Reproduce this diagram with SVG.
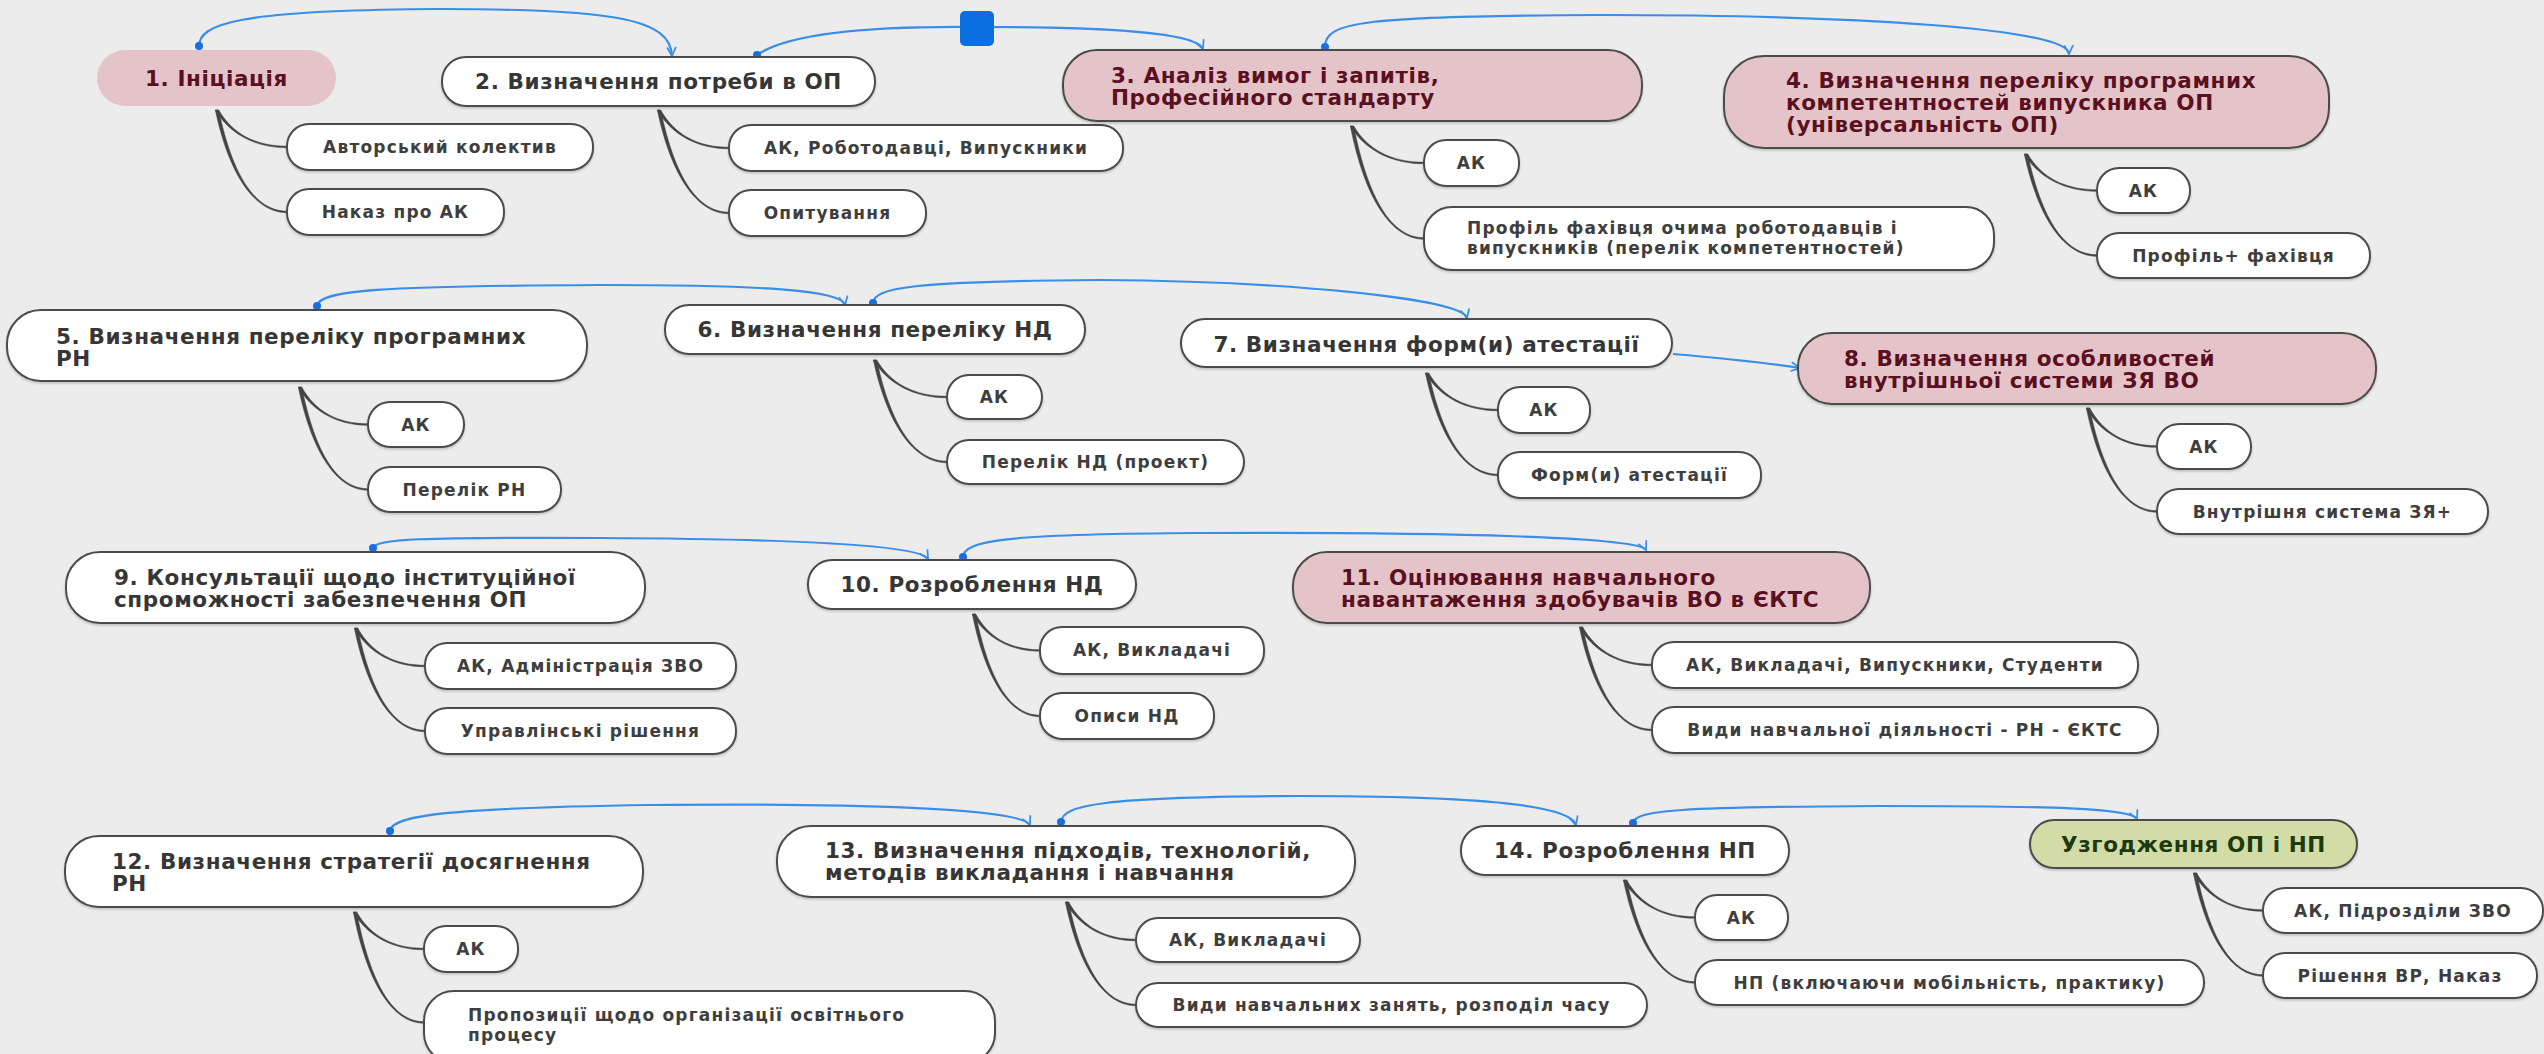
<svg xmlns="http://www.w3.org/2000/svg" width="2544" height="1054" viewBox="0 0 2544 1054">
<defs>
<style>
.t{font-family:"DejaVu Sans",Verdana,"Liberation Sans",sans-serif;font-weight:bold;font-size:21.5px;letter-spacing:0.6px;fill:#363636}
.c{font-family:"DejaVu Sans",Verdana,"Liberation Sans",sans-serif;font-weight:bold;font-size:17px;letter-spacing:1.2px;fill:#3e3e3e}
.m{text-anchor:middle}
.pt{fill:#5a1020}
.gt{fill:#1d3a0e}
.w{fill:#ffffff;stroke:#4c4c4c;stroke-width:2;filter:url(#sh)}
.p{fill:#e5c4c9;stroke:#4c4c4c;stroke-width:2;filter:url(#sh)}
.g{fill:#d3dca6;stroke:#4c4c4c;stroke-width:2;filter:url(#sh)}
.br path{fill:#444444;stroke:#444444;stroke-width:0.5}
.lk path{fill:none;stroke:#3a8ee8;stroke-width:2.2;marker-end:url(#arr);marker-start:url(#dot)}
</style>
<filter id="sh" x="-5%" y="-10%" width="110%" height="130%">
<feDropShadow dx="0" dy="1.5" stdDeviation="1" flood-color="#000" flood-opacity="0.2"/>
</filter>
<marker id="arr" viewBox="0 0 10 10" refX="9" refY="5" markerWidth="11" markerHeight="11" markerUnits="userSpaceOnUse" orient="auto">
<path d="M1,1 L9,5 L1,9" fill="none" stroke="#3a8ee8" stroke-width="1.6"/>
</marker>
<marker id="dot" viewBox="0 0 10 10" refX="5" refY="5" markerWidth="8" markerHeight="8" markerUnits="userSpaceOnUse" orient="0">
<circle cx="5" cy="5" r="5" fill="#1a6fe0"/>
</marker>
</defs>
<rect width="2544" height="1054" fill="#ececec"/>

<g id="branches" class="br">
<path d="M218.7,110 C232.7,134 255.5,146.2 287,146.2 L287,147.8 C255.5,147.8 229.3,134 215.3,110 Z"/>
<path d="M218.7,110 C232.7,176.3 255.5,211.2 287,211.2 L287,212.8 C255.5,212.8 229.3,176.3 215.3,110 Z"/>
<path d="M660.7,110 C674.7,134.7 697.5,147.2 729,147.2 L729,148.8 C697.5,148.8 671.3,134.7 657.3,110 Z"/>
<path d="M660.7,110 C674.7,177 697.5,212.2 729,212.2 L729,213.8 C697.5,213.8 671.3,177 657.3,110 Z"/>
<path d="M1353.7,126 C1368.1,150 1391.6,162.2 1424,162.2 L1424,163.8 C1391.6,163.8 1364.7,150 1350.3,126 Z"/>
<path d="M1353.7,126 C1368.1,199.1 1391.6,237.7 1424,237.7 L1424,239.3 C1391.6,239.3 1364.7,199.1 1350.3,126 Z"/>
<path d="M2027.7,154 C2041.9,177.7 2065,189.7 2097,189.7 L2097,191.3 C2065,191.3 2038.5,177.7 2024.3,154 Z"/>
<path d="M2027.7,154 C2041.9,220 2065,254.7 2097,254.7 L2097,256.3 C2065,256.3 2038.5,220 2024.3,154 Z"/>
<path d="M301.7,387 C315.3,411.4 337.4,423.7 368,423.7 L368,425.3 C337.4,425.3 311.9,411.4 298.3,387 Z"/>
<path d="M301.7,387 C315.3,453.6 337.4,488.7 368,488.7 L368,490.3 C337.4,490.3 311.9,453.6 298.3,387 Z"/>
<path d="M876.7,360 C891.1,384 914.6,396.2 947,396.2 L947,397.8 C914.6,397.8 887.7,384 873.3,360 Z"/>
<path d="M876.7,360 C891.1,426.3 914.6,461.2 947,461.2 L947,462.8 C914.6,462.8 887.7,426.3 873.3,360 Z"/>
<path d="M1428.7,373 C1442.9,397 1466,409.2 1498,409.2 L1498,410.8 C1466,410.8 1439.5,397 1425.3,373 Z"/>
<path d="M1428.7,373 C1442.9,439.3 1466,474.2 1498,474.2 L1498,475.8 C1466,475.8 1439.5,439.3 1425.3,373 Z"/>
<path d="M2089.7,408 C2103.5,433 2126,445.7 2157,445.7 L2157,447.3 C2126,447.3 2100.1,433 2086.3,408 Z"/>
<path d="M2089.7,408 C2103.5,475.3 2126,510.7 2157,510.7 L2157,512.3 C2126,512.3 2100.1,475.3 2086.3,408 Z"/>
<path d="M357.7,628 C371.5,652.7 394,665.2 425,665.2 L425,666.8 C394,666.8 368.1,652.7 354.3,628 Z"/>
<path d="M357.7,628 C371.5,695 394,730.2 425,730.2 L425,731.8 C394,731.8 368.1,695 354.3,628 Z"/>
<path d="M975.7,614 C988.9,637.7 1010.3,649.7 1040,649.7 L1040,651.3 C1010.3,651.3 985.5,637.7 972.3,614 Z"/>
<path d="M975.7,614 C988.9,680.3 1010.3,715.2 1040,715.2 L1040,716.8 C1010.3,716.8 985.5,680.3 972.3,614 Z"/>
<path d="M1582.7,627 C1596.9,651.7 1620,664.2 1652,664.2 L1652,665.8 C1620,665.8 1593.5,651.7 1579.3,627 Z"/>
<path d="M1582.7,627 C1596.9,694 1620,729.2 1652,729.2 L1652,730.8 C1620,730.8 1593.5,694 1579.3,627 Z"/>
<path d="M356.7,912 C370.5,936 393,948.2 424,948.2 L424,949.8 C393,949.8 367.1,936 353.3,912 Z"/>
<path d="M356.7,912 C370.5,983.8 393,1021.7 424,1021.7 L424,1023.3 C393,1023.3 367.1,983.8 353.3,912 Z"/>
<path d="M1068.7,902 C1082.5,926.7 1105,939.2 1136,939.2 L1136,940.8 C1105,940.8 1079.1,926.7 1065.3,902 Z"/>
<path d="M1068.7,902 C1082.5,969 1105,1004.2 1136,1004.2 L1136,1005.8 C1105,1005.8 1079.1,969 1065.3,902 Z"/>
<path d="M1626.7,880 C1640.7,904.4 1663.5,916.7 1695,916.7 L1695,918.3 C1663.5,918.3 1637.3,904.4 1623.3,880 Z"/>
<path d="M1626.7,880 C1640.7,946.6 1663.5,981.7 1695,981.7 L1695,983.3 C1663.5,983.3 1637.3,946.6 1623.3,880 Z"/>
<path d="M2196.7,873 C2210.3,897.4 2232.4,909.7 2263,909.7 L2263,911.3 C2232.4,911.3 2206.9,897.4 2193.3,873 Z"/>
<path d="M2196.7,873 C2210.3,939.6 2232.4,974.7 2263,974.7 L2263,976.3 C2232.4,976.3 2206.9,939.6 2193.3,873 Z"/>
</g>

<g id="connectors" class="lk">
<path d="M199,46 C200,25 230,10 440,9 C620,9 670,20 672,56"/>
<path d="M757,55 C790,32 880,26 977,27 C1080,27 1195,30 1203,49"/>
<path d="M1325,47 C1325,22 1360,16 1600,15 C1850,15 2068,28 2069,54"/>
<path d="M317,306 C319,290 380,286 600,285 C760,285 842,290 845,305"/>
<path d="M873,303 C874,288 910,281 1100,280 C1280,281 1462,298 1467,318"/>
<path d="M1673,354 C1720,358 1760,362 1800,368" style="marker-start:none"/>
<path d="M373,548 C375,539 420,537 600,538 C800,539 920,545 928,559"/>
<path d="M963,557 C964,541 1000,534 1200,533 C1450,532 1640,537 1646,550"/>
<path d="M390,831 C392,815 450,808 650,805 C850,803 1022,808 1030,825"/>
<path d="M1061,822 C1062,805 1100,797 1300,796 C1480,796 1570,805 1576,825"/>
<path d="M1633,823 C1635,810 1680,807 1880,806 C2050,806 2132,808 2137,819"/>
<rect x="960" y="11" width="34" height="35" rx="5" fill="#0a6fe0"/>
</g>

<g id="n1"><rect x="97" y="50" width="239" height="56" rx="28" fill="#e5c4c9"/><text class="t m pt" x="216.5" y="86">1. Ініціація</text></g>
<g id="n1a"><rect class="w" x="287" y="124" width="306" height="46" rx="22"/><text class="c m" x="440" y="153">Авторський колектив</text></g>
<g id="n1b"><rect class="w" x="287" y="189" width="217" height="46" rx="22"/><text class="c m" x="395.5" y="218">Наказ про АК</text></g>

<g id="n2"><rect class="w" x="442" y="57" width="433" height="49" rx="24"/><text class="t m" x="658.5" y="89">2. Визначення потреби в ОП</text></g>
<g id="n2a"><rect class="w" x="729" y="125" width="394" height="46" rx="22"/><text class="c m" x="926" y="154">АК, Роботодавці, Випускники</text></g>
<g id="n2b"><rect class="w" x="729" y="190" width="197" height="46" rx="22"/><text class="c m" x="827.5" y="219">Опитування</text></g>

<g id="n3"><rect class="p" x="1063" y="50" width="579" height="71" rx="34"/><text class="t pt" x="1111" y="83">3. Аналіз вимог і запитів,</text><text class="t pt" x="1111" y="105">Професійного стандарту</text></g>
<g id="n3a"><rect class="w" x="1424" y="140" width="95" height="46" rx="22"/><text class="c m" x="1471.5" y="169">АК</text></g>
<g id="n3b"><rect class="w" x="1424" y="207" width="570" height="63" rx="28"/><text class="c" x="1467" y="234">Профіль фахівця очима роботодавців і</text><text class="c" x="1467" y="254">випускників (перелік компетентностей)</text></g>

<g id="n4"><rect class="p" x="1724" y="56" width="605" height="92" rx="40"/><text class="t pt" x="1786" y="88">4. Визначення переліку програмних</text><text class="t pt" x="1786" y="110">компетентностей випускника ОП</text><text class="t pt" x="1786" y="132">(універсальність ОП)</text></g>
<g id="n4a"><rect class="w" x="2097" y="168" width="93" height="45" rx="22"/><text class="c m" x="2143.5" y="197">АК</text></g>
<g id="n4b"><rect class="w" x="2097" y="233" width="273" height="45" rx="22"/><text class="c m" x="2233.5" y="262">Профіль+ фахівця</text></g>

<g id="n5"><rect class="w" x="7" y="310" width="580" height="71" rx="34"/><text class="t" x="56" y="344">5. Визначення переліку програмних</text><text class="t" x="56" y="366">РН</text></g>
<g id="n5a"><rect class="w" x="368" y="402" width="96" height="45" rx="22"/><text class="c m" x="416" y="431">АК</text></g>
<g id="n5b"><rect class="w" x="368" y="467" width="193" height="45" rx="22"/><text class="c m" x="464.5" y="496">Перелік РН</text></g>

<g id="n6"><rect class="w" x="665" y="305" width="420" height="49" rx="24"/><text class="t m" x="875" y="337">6. Визначення переліку НД</text></g>
<g id="n6a"><rect class="w" x="947" y="375" width="95" height="44" rx="22"/><text class="c m" x="994.5" y="403">АК</text></g>
<g id="n6b"><rect class="w" x="947" y="440" width="297" height="44" rx="22"/><text class="c m" x="1095.5" y="468">Перелік НД (проект)</text></g>

<g id="n7"><rect class="w" x="1181" y="319" width="491" height="48" rx="24"/><text class="t m" x="1426.5" y="352">7. Визначення форм(и) атестації</text></g>
<g id="n7a"><rect class="w" x="1498" y="387" width="92" height="46" rx="22"/><text class="c m" x="1544" y="416">АК</text></g>
<g id="n7b"><rect class="w" x="1498" y="452" width="263" height="46" rx="22"/><text class="c m" x="1629.5" y="481">Форм(и) атестації</text></g>

<g id="n8"><rect class="p" x="1798" y="333" width="578" height="71" rx="34"/><text class="t pt" x="1844" y="366">8. Визначення особливостей</text><text class="t pt" x="1844" y="388">внутрішньої системи ЗЯ ВО</text></g>
<g id="n8a"><rect class="w" x="2157" y="424" width="94" height="45" rx="22"/><text class="c m" x="2204" y="453">АК</text></g>
<g id="n8b"><rect class="w" x="2157" y="489" width="331" height="45" rx="22"/><text class="c m" x="2322.5" y="518">Внутрішня система ЗЯ+</text></g>

<g id="n9"><rect class="w" x="66" y="552" width="579" height="71" rx="34"/><text class="t" x="114" y="585">9. Консультації щодо інституційної</text><text class="t" x="114" y="607">спроможності забезпечення ОП</text></g>
<g id="n9a"><rect class="w" x="425" y="643" width="311" height="46" rx="22"/><text class="c m" x="580.5" y="672">АК, Адміністрація ЗВО</text></g>
<g id="n9b"><rect class="w" x="425" y="708" width="311" height="46" rx="22"/><text class="c m" x="580.5" y="737">Управлінські рішення</text></g>

<g id="n10"><rect class="w" x="808" y="560" width="328" height="49" rx="24"/><text class="t m" x="972" y="592">10. Розроблення НД</text></g>
<g id="n10a"><rect class="w" x="1040" y="627" width="224" height="47" rx="22"/><text class="c m" x="1152" y="656">АК, Викладачі</text></g>
<g id="n10b"><rect class="w" x="1040" y="693" width="174" height="46" rx="22"/><text class="c m" x="1127" y="722">Описи НД</text></g>

<g id="n11"><rect class="p" x="1293" y="552" width="577" height="71" rx="34"/><text class="t pt" x="1341" y="585">11. Оцінювання навчального</text><text class="t pt" x="1341" y="607">навантаження здобувачів ВО в ЄКТС</text></g>
<g id="n11a"><rect class="w" x="1652" y="642" width="486" height="46" rx="22"/><text class="c m" x="1895" y="671">АК, Викладачі, Випускники, Студенти</text></g>
<g id="n11b"><rect class="w" x="1652" y="707" width="506" height="46" rx="22"/><text class="c m" x="1905" y="736">Види навчальної діяльності - РН - ЄКТС</text></g>

<g id="n12"><rect class="w" x="65" y="836" width="578" height="71" rx="34"/><text class="t" x="112" y="869">12. Визначення стратегії досягнення</text><text class="t" x="112" y="891">РН</text></g>
<g id="n12a"><rect class="w" x="424" y="926" width="94" height="46" rx="22"/><text class="c m" x="471" y="955">АК</text></g>
<g id="n12b"><rect class="w" x="424" y="991" width="571" height="72" rx="30"/><text class="c" x="468" y="1021">Пропозиції щодо організації освітнього</text><text class="c" x="468" y="1041">процесу</text></g>

<g id="n13"><rect class="w" x="777" y="826" width="578" height="71" rx="34"/><text class="t" x="825" y="858">13. Визначення підходів, технологій,</text><text class="t" x="825" y="880">методів викладання і навчання</text></g>
<g id="n13a"><rect class="w" x="1136" y="918" width="224" height="44" rx="22"/><text class="c m" x="1248" y="946">АК, Викладачі</text></g>
<g id="n13b"><rect class="w" x="1136" y="983" width="511" height="44" rx="22"/><text class="c m" x="1391.5" y="1011">Види навчальних занять, розподіл часу</text></g>

<g id="n14"><rect class="w" x="1461" y="826" width="328" height="49" rx="24"/><text class="t m" x="1625" y="858">14. Розроблення НП</text></g>
<g id="n14a"><rect class="w" x="1695" y="895" width="93" height="45" rx="22"/><text class="c m" x="1741.5" y="924">АК</text></g>
<g id="n14b"><rect class="w" x="1695" y="960" width="509" height="45" rx="22"/><text class="c m" x="1949.5" y="989">НП (включаючи мобільність, практику)</text></g>

<g id="n15"><rect class="g" x="2030" y="820" width="327" height="48" rx="24"/><text class="t m gt" x="2193.5" y="852">Узгодження ОП і НП</text></g>
<g id="n15a"><rect class="w" x="2263" y="888" width="280" height="45" rx="22"/><text class="c m" x="2403" y="917">АК, Підрозділи ЗВО</text></g>
<g id="n15b"><rect class="w" x="2263" y="953" width="274" height="45" rx="22"/><text class="c m" x="2400" y="982">Рішення ВР, Наказ</text></g>
</svg>
